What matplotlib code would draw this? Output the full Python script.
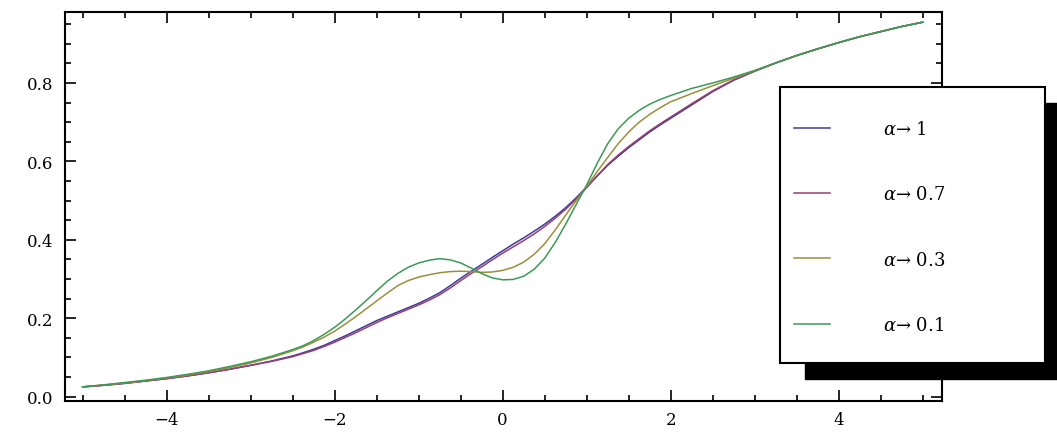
import numpy as np
import matplotlib
matplotlib.use("Agg")
import matplotlib.pyplot as plt
from matplotlib.patches import Rectangle
from matplotlib.ticker import MultipleLocator, FormatStrFormatter

plt.rcParams['font.family'] = ['DejaVu Serif', 'Liberation Serif']
plt.rcParams['mathtext.fontset'] = 'dejavuserif'

x = np.concatenate([np.arange(-5, -2.49, 0.25),
                    np.arange(-2.375, 2.001, 0.125),
                    np.arange(2.25, 5.001, 0.25)])

tail = [0.851, 0.870, 0.887, 0.903, 0.918, 0.931, 0.944, 0.955]

alpha_1 = [0.025, 0.029, 0.034, 0.040, 0.046, 0.053, 0.061, 0.070, 0.080, 0.091, 0.104,
           0.112, 0.121, 0.131, 0.143, 0.155, 0.168, 0.181, 0.194, 0.205, 0.216,
           0.227, 0.238, 0.251, 0.265, 0.283, 0.302, 0.320, 0.337, 0.355, 0.372,
           0.389, 0.405, 0.422, 0.440, 0.460, 0.482, 0.507, 0.535, 0.563, 0.590,
           0.613, 0.635, 0.655, 0.675, 0.693, 0.710,
           0.744, 0.778, 0.807, 0.830] + tail
alpha_07 = [0.025, 0.029, 0.034, 0.040, 0.046, 0.053, 0.061, 0.070, 0.080, 0.090, 0.102,
            0.110, 0.118, 0.128, 0.139, 0.151, 0.163, 0.176, 0.189, 0.201, 0.212,
            0.223, 0.234, 0.246, 0.260, 0.277, 0.296, 0.314, 0.331, 0.349, 0.366,
            0.382, 0.398, 0.415, 0.434, 0.455, 0.478, 0.504, 0.533, 0.563, 0.592,
            0.616, 0.638, 0.658, 0.678, 0.696, 0.713,
            0.747, 0.780, 0.808, 0.830] + tail
alpha_03 = [0.025, 0.030, 0.035, 0.041, 0.048, 0.055, 0.064, 0.074, 0.086, 0.100, 0.117,
            0.127, 0.139, 0.152, 0.167, 0.185, 0.204, 0.224, 0.244, 0.264, 0.283,
            0.296, 0.305, 0.311, 0.316, 0.319, 0.320, 0.319, 0.317, 0.318, 0.322,
            0.330, 0.343, 0.363, 0.390, 0.425, 0.463, 0.500, 0.536, 0.574, 0.610,
            0.645, 0.675, 0.700, 0.720, 0.737, 0.752,
            0.773, 0.793, 0.812, 0.831] + tail
alpha_01 = [0.025, 0.030, 0.036, 0.042, 0.049, 0.057, 0.066, 0.077, 0.089, 0.103, 0.120,
            0.130, 0.143, 0.159, 0.177, 0.198, 0.221, 0.245, 0.270, 0.294, 0.314,
            0.330, 0.341, 0.348, 0.352, 0.349, 0.341, 0.328, 0.314, 0.303, 0.298,
            0.299, 0.307, 0.325, 0.353, 0.393, 0.440, 0.490, 0.540, 0.595, 0.645,
            0.683, 0.710, 0.730, 0.746, 0.758, 0.768,
            0.786, 0.800, 0.815, 0.832] + tail

series = [alpha_1, alpha_07, alpha_03, alpha_01]
labels = [r'$\alpha$→ 1', r'$\alpha$→ 0.7', r'$\alpha$→ 0.3', r'$\alpha$→ 0.1']
colors = ['#3d3d99', '#993d71', '#998f3d', '#3d9956']

W, H = 1057, 435
fig = plt.figure(figsize=(W / 100, H / 100), dpi=100)
ax = fig.add_axes([65 / W, 1 - 402 / H, (942 - 65) / W, (402 - 13) / H])

lines = []
for y, c, lab in zip(series, colors, labels):
    ln, = ax.plot(x, y, color=c, lw=1.1, label=lab)
    lines.append(ln)

ax.set_xlim(-5.21, 5.23)
ax.set_ylim(-0.011, 0.981)
ax.xaxis.set_major_locator(MultipleLocator(2))
ax.xaxis.set_minor_locator(MultipleLocator(0.5))
ax.yaxis.set_major_locator(MultipleLocator(0.2))
ax.yaxis.set_minor_locator(MultipleLocator(0.05))
ax.yaxis.set_major_formatter(FormatStrFormatter('%.1f'))
ax.tick_params(which='both', direction='in', top=True, right=True,
               width=1.2, labelsize=12, colors='black')
ax.tick_params(which='major', length=8)
ax.tick_params(which='minor', length=4)
ax.tick_params(axis='y', pad=8.5)
ax.tick_params(axis='x', pad=7)
for s in ax.spines.values():
    s.set_linewidth(1.5)

# legend box with a solid offset shadow
shadow = Rectangle((805 / W, 1 - 380 / H), 265 / W, 276 / H, transform=fig.transFigure,
                   facecolor='black', edgecolor='black', zorder=5, clip_on=False)
frame = Rectangle((780 / W, 1 - 364 / H), 265 / W, 276 / H, transform=fig.transFigure,
                  facecolor='white', edgecolor='black', lw=1.5, zorder=6, clip_on=False)
fig.patches.extend([shadow, frame])

leg = fig.legend(handles=lines, labels=labels, loc='upper left',
                 bbox_to_anchor=(794 / W, 1 - 121 / H), bbox_transform=fig.transFigure,
                 frameon=False, borderpad=0, borderaxespad=0, fontsize=13,
                 handlelength=2.0, handletextpad=2.93, labelspacing=2.62)
leg.set_zorder(7)

fig.savefig('out.png', dpi=100)
